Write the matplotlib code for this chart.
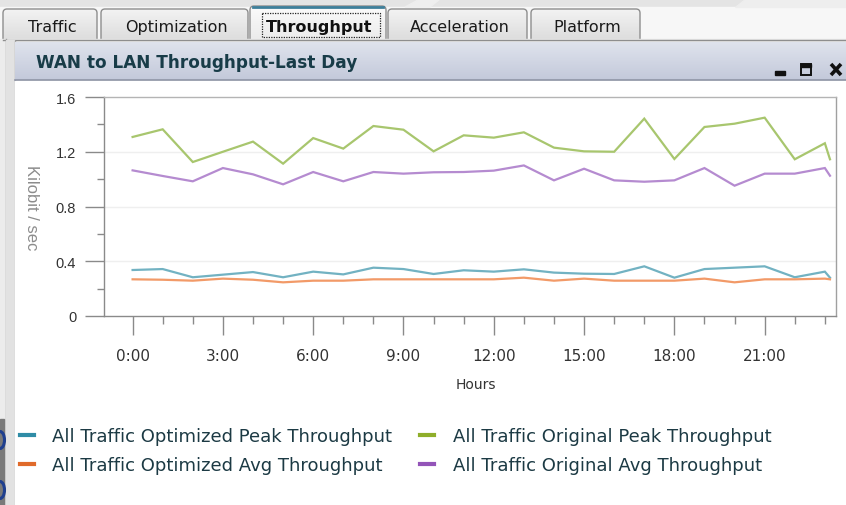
import matplotlib
matplotlib.use("Agg")
import matplotlib.pyplot as plt
import numpy as np
from matplotlib.patches import Rectangle, FancyBboxPatch, Polygon, Ellipse
from matplotlib.lines import Line2D
from matplotlib.ticker import MultipleLocator, FuncFormatter

# ---- data -----------------------------------------------------------------
hours = [0, 1, 2, 3, 4, 5, 6, 7, 8, 9, 10, 11, 12, 13, 14, 15, 16, 17, 18,
         19, 20, 21, 22, 23, 23.17]
opt_peak = [0.336, 0.343, 0.283, 0.302, 0.321, 0.283, 0.324, 0.304, 0.353,
            0.343, 0.307, 0.334, 0.324, 0.341, 0.317, 0.309, 0.307, 0.363,
            0.280, 0.343, 0.353, 0.363, 0.283, 0.324, 0.280]
opt_avg = [0.268, 0.265, 0.258, 0.273, 0.265, 0.246, 0.258, 0.258, 0.268,
           0.268, 0.268, 0.268, 0.268, 0.280, 0.258, 0.273, 0.258, 0.258,
           0.258, 0.273, 0.246, 0.268, 0.268, 0.273, 0.268]
orig_peak = [1.308, 1.364, 1.125, 1.200, 1.274, 1.113, 1.300, 1.223, 1.388,
             1.361, 1.203, 1.320, 1.303, 1.342, 1.230, 1.203, 1.200, 1.442,
             1.147, 1.381, 1.405, 1.449, 1.145, 1.262, 1.145]
orig_avg = [1.064, 1.023, 0.984, 1.081, 1.035, 0.962, 1.052, 0.984, 1.052,
            1.040, 1.050, 1.052, 1.062, 1.100, 0.991, 1.076, 0.991, 0.981,
            0.991, 1.081, 0.952, 1.040, 1.040, 1.081, 1.025]

series_labels = ["All Traffic Optimized Peak Throughput",
                 "All Traffic Optimized Avg Throughput",
                 "All Traffic Original Peak Throughput",
                 "All Traffic Original Avg Throughput"]
line_colors = ["#72b2c2", "#f29a68", "#a8c66e", "#b58bd0"]
key_colors = ["#2f8ca6", "#e06a2a", "#8fae2a", "#9354b8"]

tab_names = ["Traffic", "Optimization", "Throughput", "Acceleration", "Platform"]
active_tab = "Throughput"
panel_title = "WAN to LAN Throughput-Last Day"
y_ticks = [0, 0.4, 0.8, 1.2, 1.6]
y_tick_labels = ["0", "0.4", "0.8", "1.2", "1.6"]

# ---- figure & pixel-space canvas for the window chrome ----------------------
W, H = 846, 506
fig = plt.figure(figsize=(W / 100, H / 100), dpi=100)
fig.patch.set_facecolor("#f6f6f6")
ui = fig.add_axes([0, 0, 1, 1], zorder=0)
ui.set_xlim(0, W)
ui.set_ylim(H, 0)
ui.axis("off")


def vgrad(x0, x1, y0, y1, top, bottom, clip=None, z=1):
    c0 = np.array(matplotlib.colors.to_rgb(top))
    c1 = np.array(matplotlib.colors.to_rgb(bottom))
    t = np.linspace(0, 1, 64)[:, None]
    img = (c0 * (1 - t) + c1 * t)[:, None, :]
    im = ui.imshow(img, extent=(x0, x1, y1, y0), aspect="auto", zorder=z,
                   interpolation="bilinear")
    if clip is not None:
        im.set_clip_path(clip)
    return im


# top strip
ui.add_patch(Rectangle((0, 0), W, 8, color="#e4e4e4", zorder=0.5))
ui.add_patch(Polygon([[420, 0], [440, 0], [430, 8], [405, 8]], color="#eeeeee", zorder=0.6))
ui.add_patch(Polygon([[745, 0], [846, 0], [846, 8], [735, 8]], color="#eeeeee", zorder=0.6))
ui.add_patch(Rectangle((0, 8), W, 32, color="#f7f7f7", zorder=0.5))

# tabs
tab_spans = [(3, 97), (101, 248), (250, 386), (388, 527), (531, 640)]
for name, (x0, x1) in zip(tab_names, tab_spans):
    active = name == active_tab
    top = 7 if active else 10
    box = FancyBboxPatch((x0, top), x1 - x0, 40 - top + 6,
                         boxstyle="round,pad=0,rounding_size=4",
                         facecolor="none", edgecolor="#8e8e8e", lw=1, zorder=3)
    ui.add_patch(box)
    if active:
        vgrad(x0, x1, top, 46, "#fbfbfb", "#e9e9e9", clip=box, z=2)
        ui.plot([x0 + 3, x1 - 3], [top + 0.8, top + 0.8], color="#3e7f9a", lw=2, zorder=4)
        ui.add_patch(Rectangle((262, 14), 118, 24, fill=False, ls=(0, (1, 1)),
                               edgecolor="#222222", lw=0.9, zorder=4))
        ui.text((x0 + x1) / 2 + 1, 27, name, ha="center", va="center",
                fontsize=11.5, fontweight="bold", color="#111111", zorder=5)
    else:
        vgrad(x0, x1, top, 46, "#f3f3f3", "#d9d9d9", clip=box, z=2)
        ui.text((x0 + x1) / 2 + 2, 27, name, ha="center", va="center",
                fontsize=11.5, color="#1a1a1a", zorder=5)

# panel frame
ui.add_patch(Rectangle((0, 40), W, H - 40, color="#ececec", zorder=6))
ui.plot([3, W], [40.5, 40.5], color="#8e8e8e", lw=1, zorder=7)
ui.plot([5.5, 5.5], [40, H], color="#9a9a9a", lw=1, zorder=7)
ui.add_patch(Rectangle((6, 41), 8, H - 41, color="#e2e2e2", zorder=7))
ui.plot([14.5, 14.5], [42, H], color="#a6a6a6", lw=1, zorder=7)
vgrad(15, W, 43, 81, "#dfe3ed", "#c3c9da", z=7)
ui.plot([15, W], [81, 81], color="#8f95a6", lw=1.2, zorder=8)
ui.add_patch(Rectangle((15, 82), W - 15, H - 82, color="white", zorder=7))
ui.text(36, 63, panel_title, ha="left", va="center", fontsize=12.2,
        fontweight="bold", color="#183c48", zorder=9)

# window buttons
ui.add_patch(Rectangle((775, 72), 10, 4, color="#111111", zorder=9))
ui.add_patch(Rectangle((800.5, 64.5), 10, 11, fill=False, edgecolor="#111111", lw=1.4, zorder=9))
ui.add_patch(Rectangle((800.5, 64.5), 10, 3, color="#111111", zorder=9))
ui.plot([831, 841], [65, 76], color="#111111", lw=2.6, zorder=9, solid_capstyle="butt")
ui.plot([831, 841], [76, 65], color="#111111", lw=2.6, zorder=9, solid_capstyle="butt")

# desktop edge bits at lower left
ui.add_patch(Rectangle((0, 420), 4, H - 420, color="#7a7a7a", zorder=8))
ui.add_patch(Ellipse((0, 441), 9, 17, facecolor="none", edgecolor="#1f3f8e", lw=2.2, zorder=9))
ui.add_patch(Ellipse((0, 491), 9, 17, facecolor="none", edgecolor="#1f3f8e", lw=2.2, zorder=9))

# ---- chart ------------------------------------------------------------------
L, T, R, B = 104, 98, 836, 317
ax = fig.add_axes([L / W, 1 - B / H, (R - L) / W, (B - T) / H], zorder=5)
ax.set_facecolor("none")

series = [opt_peak, opt_avg, orig_peak, orig_avg]
for vals, col, lab in zip(series, line_colors, series_labels):
    ax.plot(hours, vals, color=col, lw=1.6, label=lab, solid_joinstyle="miter")

ax.set_xlim(-0.95, 23.37)
ax.set_ylim(0, 1.6)
ax.set_yticks(y_ticks)
ax.set_yticklabels(y_tick_labels)
ax.yaxis.set_minor_locator(MultipleLocator(0.2))
ax.xaxis.set_major_locator(MultipleLocator(3))
ax.xaxis.set_minor_locator(MultipleLocator(1))
ax.xaxis.set_major_formatter(FuncFormatter(lambda v, p: f"{int(round(v))}:00"))

for grid_y in y_ticks[1:-1]:
    ax.axhline(grid_y, color="#efefef", lw=1, zorder=0)

for side, col in (("left", "#8a8a8a"), ("bottom", "#8a8a8a"),
                  ("top", "#b4b4b4"), ("right", "#a0a0a0")):
    ax.spines[side].set_color(col)
    ax.spines[side].set_linewidth(1)

ax.tick_params(axis="y", which="major", length=14, width=1, color="#8a8a8a",
               pad=6, labelsize=10.5, labelcolor="#333333",
               labelfontfamily="Liberation Sans")
ax.tick_params(axis="y", which="minor", length=5, width=1, color="#8a8a8a")
ax.tick_params(axis="x", which="major", length=14, width=1, color="#8a8a8a",
               pad=9, labelsize=11, labelcolor="#333333")
ax.tick_params(axis="x", which="minor", length=6, width=1, color="#8a8a8a")

ax.set_ylabel("Kilobit / sec", rotation=270, fontsize=12, color="#8c8c8c",
              family="Liberation Sans", va="center", ha="center")
ax.yaxis.set_label_coords((31 - L) / (R - L), 0.5)
ax.set_xlabel("Hours", fontsize=10, color="#333333", va="center", ha="center")
ax.xaxis.set_label_coords((476 - L) / (R - L), (B - 385) / (B - T))

handles = [Line2D([], [], color=c, lw=3) for c in key_colors]
fig.legend(handles, series_labels, ncol=2, loc="upper left",
           bbox_to_anchor=(20 / W, 1 - 428 / H), frameon=False,
           fontsize=13, labelcolor="#1c3a44", handlelength=0.75,
           handletextpad=1.05, columnspacing=1.55, labelspacing=0.62,
           borderpad=0, borderaxespad=0)

fig.savefig("out.png", dpi=100, facecolor=fig.get_facecolor())
